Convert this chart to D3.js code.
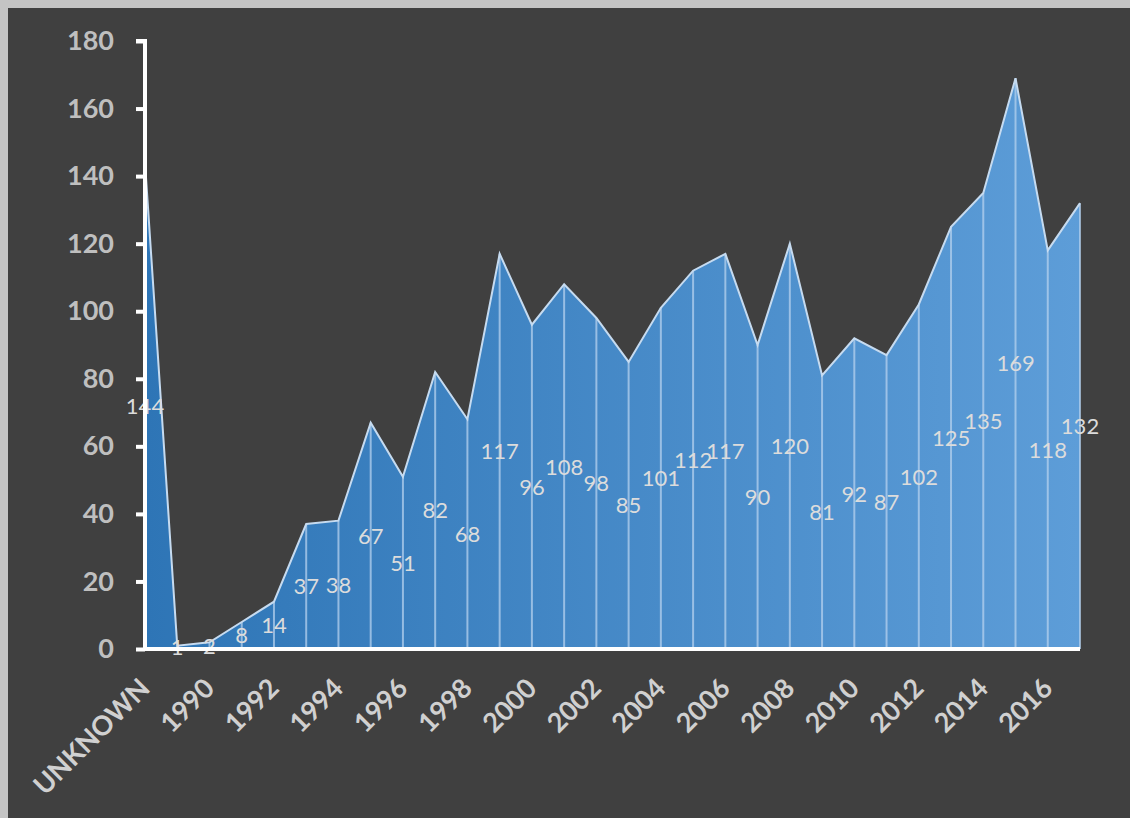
<!DOCTYPE html>
<html>
<head>
<meta charset="utf-8">
<script src="https://cdn.jsdelivr.net/npm/d3@7"></script>
<style>
  html, body { margin: 0; padding: 0; background: #c4c4c4; }
  svg { display: block; }
</style>
</head>
<body>
<svg id="chart" width="1130" height="818"></svg>
<script>
const categories = ["UNKNOWN","1989","1990","1991","1992","1993","1994","1995","1996","1997","1998","1999","2000","2001","2002","2003","2004","2005","2006","2007","2008","2009","2010","2011","2012","2013","2014","2015","2016","2017"];
const values = [144,1,2,8,14,37,38,67,51,82,68,117,96,108,98,85,101,112,117,90,120,81,92,87,102,125,135,169,118,132];
const yTicks = [0,20,40,60,80,100,120,140,160,180];
const xTickLabels = ["UNKNOWN","1990","1992","1994","1996","1998","2000","2002","2004","2006","2008","2010","2012","2014","2016"];

const svg = d3.select("#chart");
svg.append("rect").attr("x", 8).attr("y", 8).attr("width", 1122).attr("height", 810).attr("fill", "#404040");

const x = d3.scalePoint().domain(categories).range([145, 1080]).padding(0);
const y = d3.scaleLinear().domain([0, 180]).range([649, 41]);

const defs = svg.append("defs");
const grad = defs.append("linearGradient").attr("id", "areaGrad")
  .attr("gradientUnits", "userSpaceOnUse")
  .attr("x1", x.range()[0]).attr("x2", x.range()[1]).attr("y1", 0).attr("y2", 0);
grad.append("stop").attr("offset", "0%").attr("stop-color", "#2e75b6");
grad.append("stop").attr("offset", "100%").attr("stop-color", "#5d9dd8");

const data = categories.map((c, i) => ({ c, v: values[i] }));

const area = d3.area().x(d => x(d.c)).y0(y(0)).y1(d => y(d.v));
svg.append("path").datum(data).attr("d", area).attr("fill", "url(#areaGrad)");

svg.append("g").selectAll("line").data(data).join("line")
  .attr("x1", d => x(d.c)).attr("x2", d => x(d.c))
  .attr("y1", d => y(d.v)).attr("y2", y(0))
  .attr("stroke", "#b4d0ee").attr("stroke-opacity", 0.75).attr("stroke-width", 2);

const line = d3.line().x(d => x(d.c)).y(d => y(d.v));
svg.append("path").datum(data).attr("d", line)
  .attr("fill", "none").attr("stroke", "#c6dbf0").attr("stroke-width", 2).attr("stroke-linejoin", "miter");

svg.append("g").selectAll("text").data(data).join("text")
  .attr("x", d => x(d.c)).attr("y", d => y(d.v / 2))
  .attr("dy", "0.36em")
  .attr("text-anchor", "middle")
  .attr("font-family", "Lato, 'Open Sans', sans-serif")
  .attr("font-size", 22)
  .attr("fill", "#dcdcdc")
  .text(d => d.v);

const yAxis = d3.axisLeft(y).tickValues(yTicks).tickSize(9).tickPadding(22);
const gy = svg.append("g").attr("transform", "translate(145,0)").call(yAxis);
gy.select(".domain").attr("stroke", "#ffffff").attr("stroke-width", 4).attr("d", `M-9,${y(180)}H0V${y(0)}`);
gy.selectAll(".tick line").attr("stroke", "#ffffff").attr("stroke-width", 4);
gy.selectAll(".tick text")
  .attr("font-family", "Lato, 'Open Sans', sans-serif")
  .attr("font-size", 27).attr("font-weight", "bold").attr("fill", "#bfbfbf");

const xAxis = d3.axisBottom(x).tickValues(xTickLabels).tickSize(0).tickPadding(0);
const gx = svg.append("g").attr("transform", `translate(0,${y(0)})`).call(xAxis);
gx.select(".domain").attr("stroke", "#ffffff").attr("stroke-width", 4).attr("d", `M143,0H1080`);
gx.selectAll(".tick text")
  .attr("font-family", "Lato, 'Open Sans', sans-serif")
  .attr("font-size", 27).attr("font-weight", "bold").attr("fill", "#d0d0d0")
  .attr("text-anchor", "end")
  .attr("y", 0).attr("dy", 0)
  .attr("transform", "translate(6,41) rotate(-45)");
</script>
</body>
</html>
